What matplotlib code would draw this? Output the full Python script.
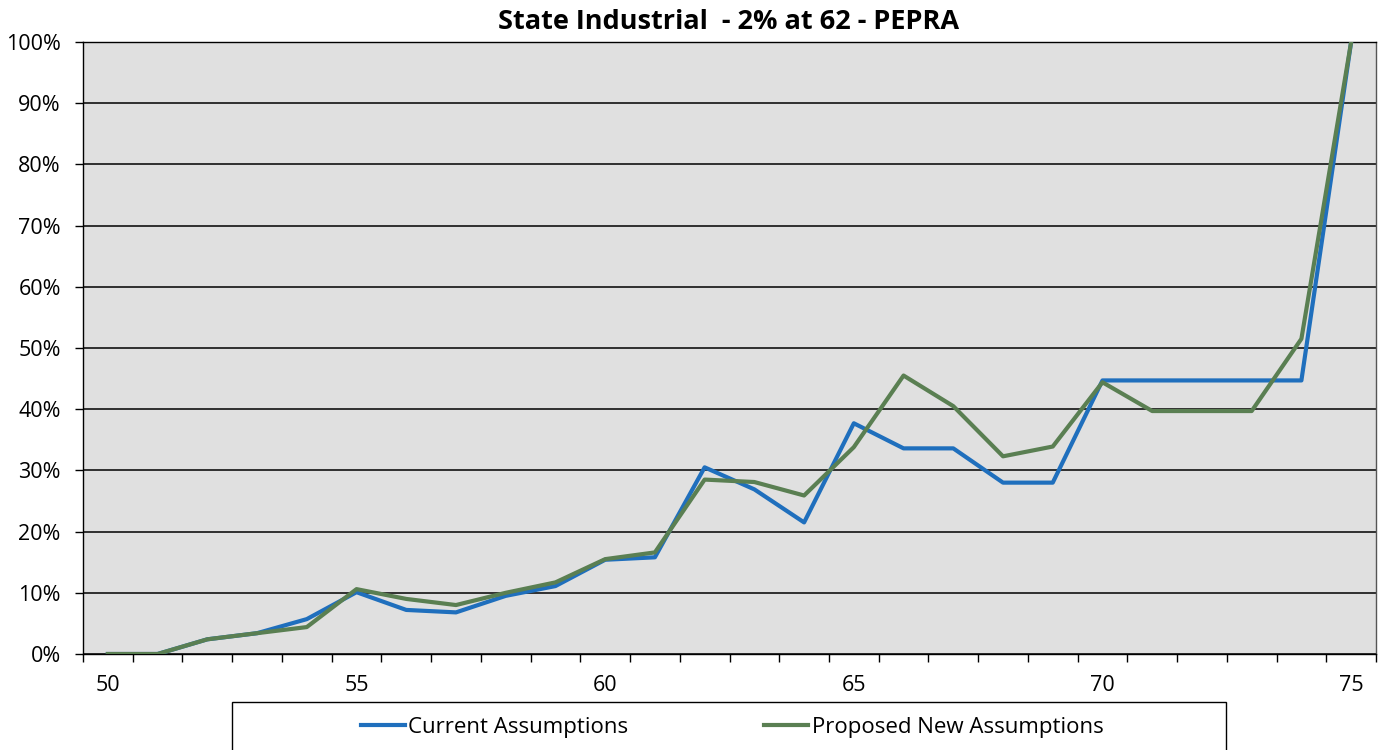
import matplotlib.pyplot as plt
from matplotlib.patches import Rectangle
from matplotlib.ticker import FuncFormatter

# ages and retirement rates (%)
ages = list(range(50, 76))
current = [0, 0, 2.4, 3.4, 5.7, 10.1, 7.2, 6.8, 9.5, 11.1,
           15.4, 15.8, 30.5, 26.9, 21.5, 37.7, 33.6, 33.6, 28.0, 28.0,
           44.7, 44.7, 44.7, 44.7, 44.7, 100]
proposed = [0, 0, 2.4, 3.4, 4.4, 10.6, 9.0, 8.0, 10.0, 11.7,
            15.5, 16.6, 28.5, 28.1, 25.9, 33.8, 45.5, 40.5, 32.3, 33.9,
            44.4, 39.7, 39.7, 39.7, 51.5, 100]
title = "State Industrial  - 2% at 62 - PEPRA"

plt.rcParams['font.family'] = ['Open Sans', 'DejaVu Sans']

fig = plt.figure(figsize=(13.82, 7.5), dpi=100)
ax = fig.add_axes([83 / 1382, 1 - 654 / 750, (1376 - 83) / 1382, (654 - 42) / 750])
ax.set_facecolor('#e0e0e0')

ax.plot(ages, current, color='#1f6fbd', lw=3, label='Current Assumptions', zorder=3)
ax.plot(ages, proposed, color='#5a7f52', lw=3, label='Proposed New Assumptions', zorder=4)

ax.set_xlim(49.5, 75.5)
ax.set_ylim(0, 100)

# category-style x axis: ticks between categories, labels every 5
ax.set_xticks(range(50, 76, 5))
ax.set_xticks([a - 0.5 for a in ages] + [75.5], minor=True)
ax.tick_params(axis='x', which='major', length=0, pad=15, labelsize=15.5)
ax.tick_params(axis='x', which='minor', length=5.5, width=1, color='black', direction='out')

ax.set_yticks(range(0, 101, 10))
ax.yaxis.set_major_formatter(FuncFormatter(lambda v, p: f"{int(v)}%"))
ax.tick_params(axis='y', length=6, width=1, pad=10, labelsize=15.5)

ax.grid(axis='y', color='black', lw=1.1)
ax.set_axisbelow(True)
for s in ax.spines.values():
    s.set_color('black')
    s.set_linewidth(1)
ax.spines['right'].set_color('#555555')

fig.text(729 / 1382, 1 - 22 / 750, title, ha='center', va='center', fontsize=19.5, fontweight='bold')

# legend box (cut off at the bottom like the original)
fig.patches.append(Rectangle((232 / 1382, -0.05), (1226 - 232) / 1382, 0.05 + (750 - 702) / 750,
                             transform=fig.transFigure, fill=False, edgecolor='black', lw=1))
handles, labels = ax.get_legend_handles_labels()
fig.legend(handles, labels, loc='center', bbox_to_anchor=(732 / 1382, 1 - 727 / 750), ncol=2,
           frameon=False, fontsize=16, handlelength=2.0, handletextpad=0.15, columnspacing=6.1,
           borderpad=0)

fig.savefig('out.png', dpi=100)
